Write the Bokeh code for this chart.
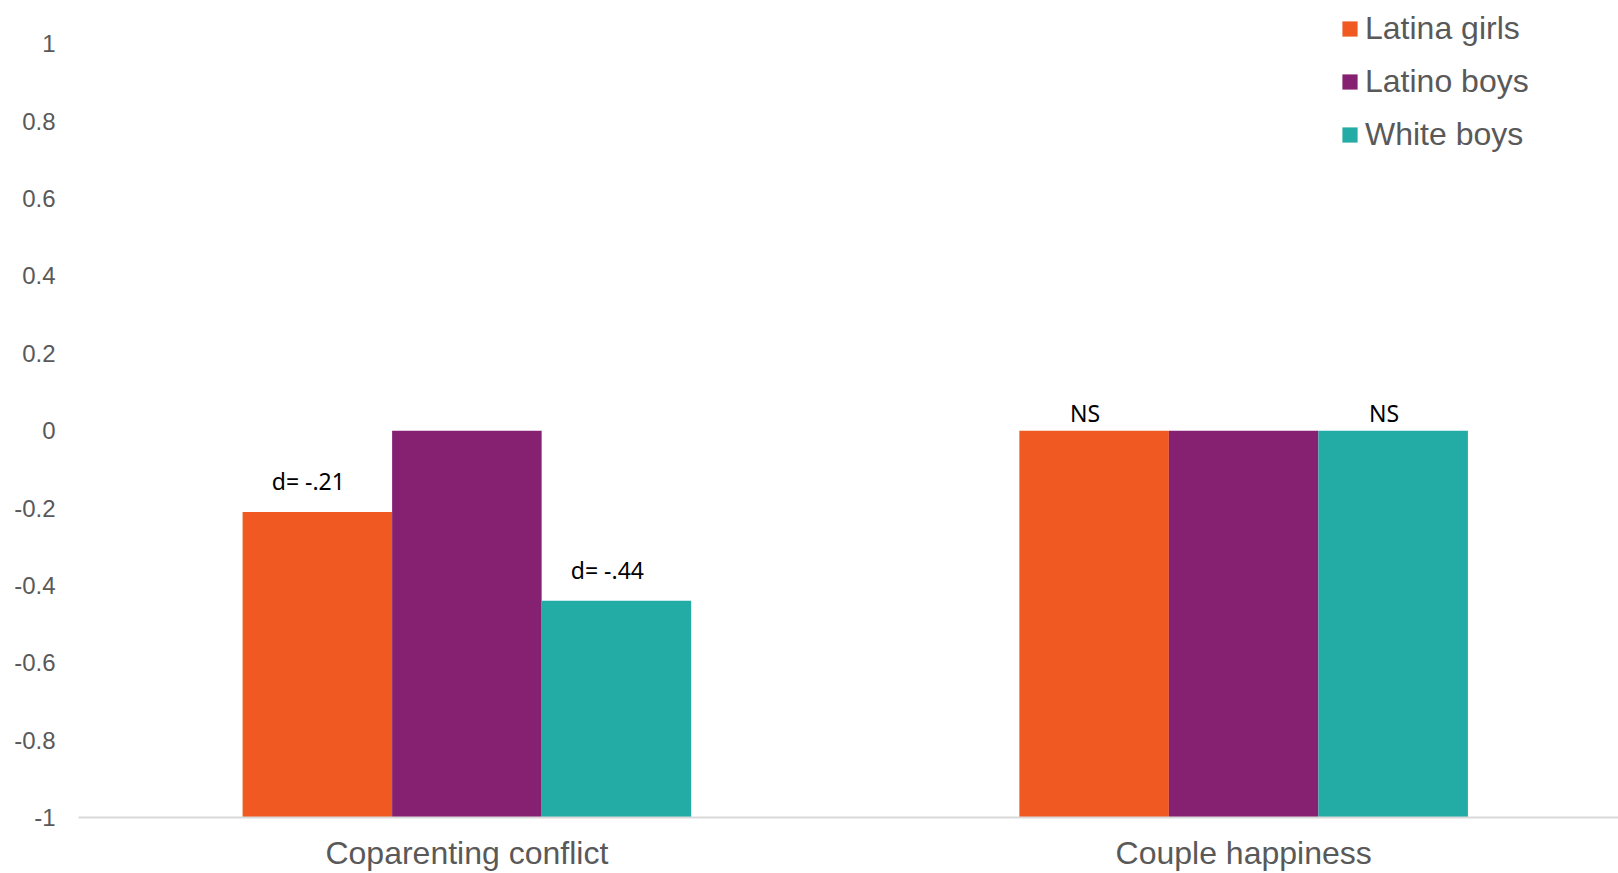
from bokeh.plotting import figure
from bokeh.models import ColumnDataSource, FixedTicker, Legend, LegendItem
from bokeh.embed import file_html
from bokeh.resources import INLINE
from bokeh.core.properties import value

categories = ["Coparenting conflict", "Couple happiness"]
series = ["Latina girls", "Latino boys", "White boys"]
colors = ["#F05A22", "#862071", "#23ABA6"]
values = {
    "Latina girls": [-0.21, 0.0],
    "Latino boys": [0.0, 0.0],
    "White boys": [-0.44, 0.0],
}
annotations = {
    "Latina girls": ["d= -.21", "NS"],
    "Latino boys": ["", ""],
    "White boys": ["d= -.44", "NS"],
}
y_ticks = [1, 0.8, 0.6, 0.4, 0.2, 0, -0.2, -0.4, -0.6, -0.8, -1]
y_tick_labels = ["1", "0.8", "0.6", "0.4", "0.2", "0", "-0.2", "-0.4", "-0.6", "-0.8", "-1"]

AXIS_MIN = -1
bar_w = 0.1925

p = figure(width=1618, height=873, output_backend="svg", toolbar_location=None,
           x_range=(0, 1.9826), y_range=(-1, 1.112),
           min_border_left=78, min_border_right=0, min_border_top=0, min_border_bottom=54)
p.outline_line_color = None
p.background_fill_color = "white"
p.border_fill_color = "white"
p.xgrid.visible = False
p.ygrid.visible = False

centers = [i + 0.5 for i in range(len(categories))]
items = []
for k, s in enumerate(series):
    xs = [c + (k - 1) * bar_w for c in centers]
    src = ColumnDataSource(dict(x=xs, top=values[s], bottom=[AXIS_MIN] * len(xs)))
    r = p.vbar(x="x", top="top", bottom="bottom", width=bar_w, source=src,
               fill_color=colors[k], line_color=None)
    items.append(LegendItem(label=s, renderers=[r]))

# annotations
for k, s in enumerate(series):
    xs, ys, ts = [], [], []
    for i, c in enumerate(centers):
        t = annotations[s][i]
        if not t:
            continue
        xs.append(c + (k - 1) * bar_w)
        off = 0.08 if t.startswith("d") else 0.045
        ys.append(values[s][i] + off)
        ts.append(t)
    p.text(x=xs, y=ys, text=ts, text_align="center", text_baseline="middle",
           text_font=value("Noto Sans"), text_font_size="23px", text_color="black",
           x_offset=-9)

# axes
p.xaxis.ticker = FixedTicker(ticks=centers)
p.xaxis.major_label_overrides = {c: cat for c, cat in zip(centers, categories)}
p.xaxis.major_label_text_font = "Liberation Sans"
p.xaxis.major_label_text_font_size = "32px"
p.xaxis.major_label_text_color = "#595959"
p.xaxis.major_label_text_line_height = 0.9
p.xaxis.major_label_standoff = 11
p.xaxis.major_tick_line_color = None
p.xaxis.minor_tick_line_color = None
p.xaxis.axis_line_color = "#D9D9D9"
p.xaxis.axis_line_width = 2

p.yaxis.ticker = FixedTicker(ticks=y_ticks)
p.yaxis.major_label_overrides = {t: l for t, l in zip(y_ticks, y_tick_labels)}
p.yaxis.major_label_text_font = "Liberation Sans"
p.yaxis.major_label_text_font_size = "24px"
p.yaxis.major_label_text_color = "#595959"
p.yaxis.major_label_standoff = 17
p.yaxis.major_tick_line_color = None
p.yaxis.minor_tick_line_color = None
p.yaxis.axis_line_color = None

legend = Legend(items=items, location=(1262, 664), orientation="vertical",
                padding=0, margin=0, spacing=16, glyph_width=19, glyph_height=19,
                label_height=36, label_standoff=6,
                label_text_font="Liberation Sans", label_text_font_size="32px",
                label_text_color="#595959", border_line_color=None,
                background_fill_alpha=0)
p.add_layout(legend, "center")

open("out.html", "w").write(file_html(p, INLINE))
